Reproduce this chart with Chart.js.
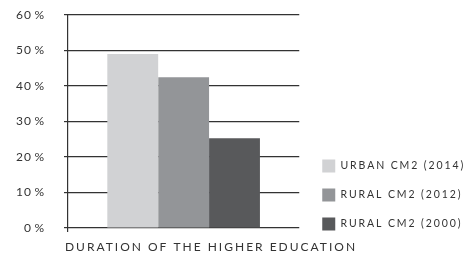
<!DOCTYPE html>
<html>
<head>
<meta charset="utf-8">
<script src="https://cdn.jsdelivr.net/npm/chart.js@4"></script>
<style>
  html, body { margin: 0; padding: 0; background: #fff; }
  #wrap { width: 465px; height: 259px; }
</style>
</head>
<body>
<div id="wrap"><canvas id="eduChart"></canvas></div>
<script>
// Durée des études supérieures
const categories = ['DURATION OF THE HIGHER EDUCATION'];
const seriesNames = ['URBAN CM2 (2014)', 'RURAL CM2 (2012)', 'RURAL CM2 (2000)'];
const urban2014 = [49];
const rural2012 = [42.5];
const rural2000 = [25.3];
const yTicks = [0, 10, 20, 30, 40, 50, 60];

// espacement des lettres par boîte
function withSpacing(box, px) {
    if (box._spaced) return;
    const draw = box.draw.bind(box);
    box.draw = function () {
        const c = this.ctx;
        const old = c.letterSpacing;
        c.letterSpacing = px;
        draw();
        c.letterSpacing = old;
    };
    box._spaced = true;
}

// légende et titre décalés
const spacing = {
    id: 'spacing',
    afterLayout(chart) {
        const lg = chart.legend;
        lg.left = chart.chartArea.right + 7;
        lg.right = chart.width;
        lg.top = 143.5;
        const t = chart.titleBlock;
        t.left = 23;
        t.right = 399;
        withSpacing(lg, '1.9px');
        withSpacing(t, '2px');
    },
    beforeDraw(chart) {
        chart.ctx.letterSpacing = '1px';
    }
};

const ctx = document.getElementById('eduChart').getContext('2d');
new Chart(ctx, {
    type: 'bar',
    data: {
        labels: categories,
        datasets: [{
            label: seriesNames[0],
            data: urban2014,
            backgroundColor: '#d1d2d4'
        }, {
            label: seriesNames[1],
            data: rural2012,
            backgroundColor: '#939598'
        }, {
            label: seriesNames[2],
            data: rural2000,
            backgroundColor: '#58595b'
        }]
    },
    options: {
        responsive: true,
        maintainAspectRatio: false,
        animation: false,
        layout: { padding: { left: 0, right: 66, top: 0, bottom: 4 } },
        datasets: {
            bar: { categoryPercentage: 0.66, barPercentage: 1 }
        },
        plugins: {
            tooltip: { enabled: false },
            legend: {
                position: 'right',
                align: 'start',
                labels: {
                    boxWidth: 13,
                    boxHeight: 13,
                    padding: 16,
                    color: '#333',
                    font: { family: 'Lato', size: 10.5 }
                }
            },
            title: {
                display: true,
                position: 'bottom',
                align: 'center',
                text: categories[0],
                color: '#333',
                font: { family: 'Lato', size: 12, weight: 'normal' },
                padding: { top: 7.6, bottom: 1 }
            }
        },
        scales: {
            x: {
                ticks: { display: false },
                border: { display: false },
                grid: {
                    offset: true,
                    tickLength: 4,
                    lineWidth: 1.2,
                    color: c => c.index === 0 ? '#333' : 'transparent'
                }
            },
            y: {
                min: 0,
                max: 60,
                afterBuildTicks: s => { s.ticks = yTicks.map(v => ({ value: v })); },
                afterFit: s => {
                    s.width = 68;
                    s.paddingTop = 15;
                    s.paddingBottom = 6;
                },
                ticks: {
                    padding: 19,
                    color: '#333',
                    font: { family: 'Lato', size: 12 },
                    callback: v => v + '\u2009%'
                },
                border: { display: false },
                grid: { color: '#333', lineWidth: 1.2, tickLength: 4 }
            }
        }
    },
    plugins: [spacing]
});
</script>
</body>
</html>
